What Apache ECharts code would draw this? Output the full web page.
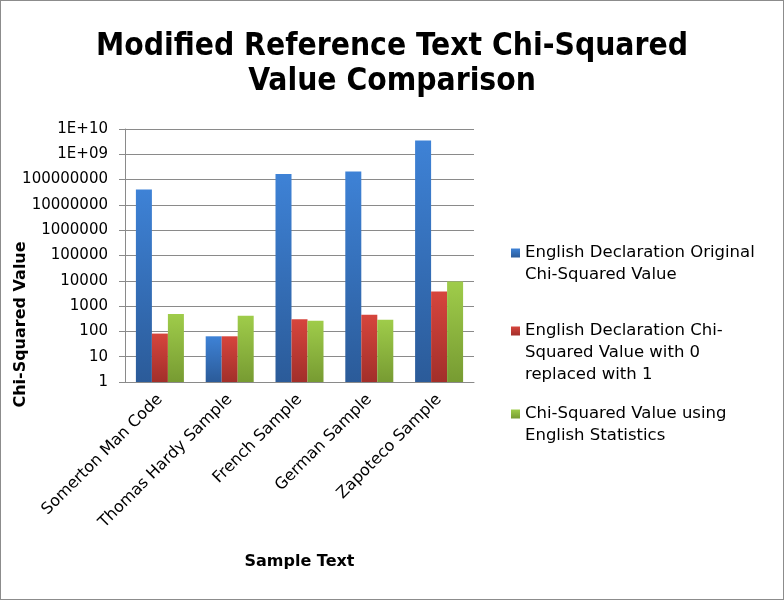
<!DOCTYPE html>
<html><head><meta charset="utf-8">
<script src="https://cdn.jsdelivr.net/npm/echarts@6/dist/echarts.min.js"></script>
<style>html,body{margin:0;padding:0;background:#fff}#c{width:784px;height:600px;box-sizing:border-box;border:1px solid #8c8c8c}</style>
</head><body><div id="c"></div>
<script>
const categories = ['Somerton Man Code','Thomas Hardy Sample','French Sample','German Sample','Zapoteco Sample'];
const seriesNames = ['English Declaration Original\nChi-Squared Value','English Declaration Chi-\nSquared Value with 0\nreplaced with 1','Chi-Squared Value using\nEnglish Statistics'];
const originalValues = [41000000, 64, 165000000, 210000000, 3500000000];
const replacedValues = [82, 64, 300, 457, 3780];
const englishStatsValues = [486, 418, 265, 290, 9340];
const yTickLabels = ['1','10','100','1000','10000','100000','1000000','10000000','100000000','1E+09','1E+10'];

const chart = echarts.init(document.getElementById('c'));
const grad = (a,b)=>new echarts.graphic.LinearGradient(0,0,0,1,[{offset:0,color:a},{offset:1,color:b}]);
const font = 'DejaVu Sans';
function legendAt(idx, blanks, top){
  return {data:[seriesNames[idx]], orient:'vertical', left:510, top:top, padding:0,
    itemWidth:9, itemHeight:9, itemGap:4, icon:'rect',
    formatter: n => '\n'.repeat(blanks) + n,
    textStyle:{fontFamily:font, fontSize:16.5, color:'#000', lineHeight:22}};
}
chart.setOption({
  backgroundColor:'#fff',
  animation:false,
  title:{text:'Modified Reference Text Chi-Squared\nValue Comparison', left:'center', top:23,
    textStyle:{fontFamily:'DejaVu Sans Condensed', fontWeight:'bold', fontSize:31.5, lineHeight:35, color:'#000'}},
  legend:[legendAt(0,1,219), legendAt(1,2,275), legendAt(2,1,380)],
  grid:{left:124, right:309, top:128, bottom:217},
  xAxis:{type:'category', data:categories,
    name:'Sample Text', nameLocation:'middle', nameGap:172, nameMoveOverlap:false,
    nameTextStyle:{fontFamily:font, fontWeight:'bold', fontSize:16, color:'#000'},
    axisLine:{lineStyle:{color:'#8a8a8a'}}, axisTick:{length:5, lineStyle:{color:'#8a8a8a'}},
    axisLabel:{rotate:45, fontFamily:font, fontSize:16, color:'#000', margin:15, interval:0}},
  yAxis:{type:'log', logBase:10, min:1, max:1e10, interval:1,
    name:'Chi-Squared Value', nameLocation:'middle', nameGap:96, nameMoveOverlap:false,
    nameTextStyle:{fontFamily:font, fontWeight:'bold', fontSize:16, color:'#000', padding:[0,138,0,0]},
    axisLine:{show:true, lineStyle:{color:'#8a8a8a'}},
    axisTick:{show:true, length:6, lineStyle:{color:'#8a8a8a'}},
    splitLine:{lineStyle:{color:'#8a8a8a'}},
    axisLabel:{fontFamily:font, fontSize:15, color:'#000', margin:17,
      formatter: v => yTickLabels[Math.round(Math.log10(v))]}},
  series:[
    {name:seriesNames[0], type:'bar', data:originalValues, barWidth:16, barGap:'0%',
      itemStyle:{color:grad('#3e82d6','#2b5b99')}},
    {name:seriesNames[1], type:'bar', data:replacedValues, barWidth:16, barGap:'0%',
      itemStyle:{color:grad('#d6453d','#a22f2a')}},
    {name:seriesNames[2], type:'bar', data:englishStatsValues, barWidth:16, barGap:'0%',
      itemStyle:{color:grad('#9fcc4a','#779b32')}}
  ]
});
</script></body></html>
